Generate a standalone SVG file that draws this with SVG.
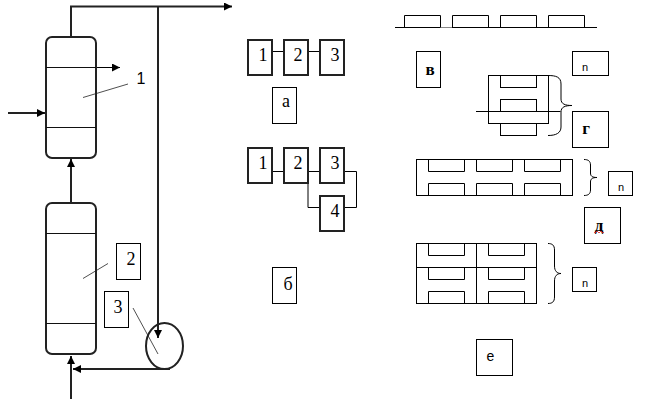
<svg xmlns="http://www.w3.org/2000/svg" width="645" height="408" viewBox="0 0 645 408">
<style>
.t{font-family:"Liberation Serif",serif;font-size:18px;fill:#000;text-anchor:middle}
.s{font-family:"Liberation Sans",sans-serif;fill:#000;text-anchor:middle}
.l{fill:none;stroke:#000;stroke-width:1}
.m{fill:none;stroke:#111;stroke-width:1}
.h{fill:none;stroke:#222;stroke-width:2}
.b{fill:#fff;stroke:#000;stroke-width:1}
.k{fill:#fff;stroke:#222;stroke-width:2}
.thin{fill:none;stroke:#222;stroke-width:.8}
</style>
<defs>
<marker id="a" markerUnits="userSpaceOnUse" markerWidth="9" markerHeight="8" refX="8" refY="4" orient="auto"><path d="M0 0L8 4L0 8Z" fill="#000"/></marker>
</defs>
<g id="connectors">
<path class="h" d="M71 37V6.500H232" marker-end="url(#a)"/>
<path class="h" d="M158 6.500V338" marker-end="url(#a)"/>
<path class="h" d="M71 203V159" marker-end="url(#a)"/>
<path class="h" d="M8 113H45" marker-end="url(#a)"/>
<path class="h" d="M71 399V356" marker-end="url(#a)"/>
<path class="h" d="M170 369H73" marker-end="url(#a)"/>
<path class="l" d="M46 67.500H120" marker-end="url(#a)"/>
<path class="l" d="M272 51.500H284M308 51.500H320M272 171.500H284M308 171.500H320M344 171.500H356.500V207.500H344M308 183V207.500H320"/>
</g>
<g id="column-1"><rect class="h" x="46" y="37" width="50" height="121" rx="6"/><path class="m" d="M46 67.500H96M46 127.500H96"/></g>
<g id="column-2"><rect class="h" x="46" y="203" width="50" height="151" rx="6"/><path class="m" d="M46 233.500H96M46 323.500H96"/></g>
<g id="pump"><ellipse class="h" cx="164.500" cy="346" rx="18.500" ry="23"/></g>
<g id="label-1"><path class="thin" d="M83 97.500L128 84"/><text class="s" x="141" y="84" font-size="16">1</text></g>
<g id="label-2"><path class="thin" d="M83 278.500L108 263.500"/><rect class="b" x="116.500" y="243.500" width="24" height="36"/><text class="t" x="131" y="265">2</text></g>
<g id="label-3"><rect class="b" x="104.500" y="291.500" width="24" height="36"/><text class="t" x="118" y="313">3</text><path class="thin" d="M133 308L158 354"/></g>
<g id="a1"><rect class="k" x="248" y="40" width="24" height="35"/><text class="t" x="263" y="61">1</text></g>
<g id="a2"><rect class="k" x="284" y="40" width="24" height="35"/><text class="t" x="298" y="61">2</text></g>
<g id="a3"><rect class="k" x="320" y="40" width="24" height="35"/><text class="t" x="335" y="61">3</text></g>
<g id="cap-a"><rect class="b" x="272.500" y="87.500" width="24" height="36"/><text class="t" x="286" y="107">а</text></g>
<g id="b1"><rect class="k" x="248" y="148" width="24" height="35"/><text class="t" x="263" y="169">1</text></g>
<g id="b2"><rect class="k" x="284" y="148" width="24" height="35"/><text class="t" x="298" y="169">2</text></g>
<g id="b3"><rect class="k" x="320" y="148" width="24" height="35"/><text class="t" x="335" y="169">3</text></g>
<g id="b4"><rect class="k" x="320" y="196" width="24" height="35"/><text class="t" x="335" y="217">4</text></g>
<g id="cap-b"><rect class="b" x="272.500" y="267.500" width="24" height="36"/><text class="t" x="288" y="290">б</text></g>
<g id="scheme-v"><path class="l" d="M395 27.500H440M452 27.500H597"/><path fill="none" stroke="#888" d="M440 27.500H452"/><path class="l" d="M404.500 27.500V15.500H440.500V27.500M452.500 27.500V15.500H488.500V27.500M500.500 27.500V15.500H536.500V27.500M548.500 27.500V15.500H584.500V27.500"/></g>
<g id="cap-v"><rect class="b" x="416.500" y="51.500" width="24" height="36"/><text class="t" x="430" y="75" font-weight="bold" style="font-size:17px">в</text></g>
<g id="n-1"><rect class="b" x="572.500" y="51.500" width="36" height="24"/><text class="s" x="585" y="71" font-size="11">n</text></g>
<g id="scheme-g"><path class="l" d="M476 111.500H560.500"/><rect class="l" x="488.500" y="75.500" width="60" height="48"/><rect class="l" x="500.500" y="75.500" width="36" height="12"/><rect class="l" x="500.500" y="99.500" width="36" height="12"/><rect class="l" x="500.500" y="123.500" width="36" height="12"/><path class="l" stroke="#333" d="M548 75.500C556 75.500 561 77 561 84V99C561 104 565 105.500 572 105.500C565 105.500 561 107 561 112V127C561 133 556 135.500 548 135.500"/></g>
<g id="cap-g"><rect class="b" x="572.500" y="111.500" width="36" height="36"/><text class="t" x="586" y="134" font-weight="bold" style="font-size:17px">г</text></g>
<g id="scheme-d"><rect class="l" x="416.500" y="159.500" width="156" height="36"/><path class="l" d="M428.500 159.500V171.500H464.500V159.500M476.500 159.500V171.500H512.500V159.500M524.500 159.500V171.500H560.500V159.500M428.500 195.500V183.500H464.500V195.500M476.500 195.500V183.500H512.500V195.500M524.500 195.500V183.500H560.500V195.500"/><path class="l" d="M584 159.500C588 159.500 590.500 161 590.500 165V173C590.500 176 592 177.500 597 177.500C592 177.500 590.500 179 590.500 182V190C590.500 194 588 195.500 584 195.500"/></g>
<g id="n-2"><rect class="b" x="608.500" y="171.500" width="24" height="24"/><text class="s" x="621" y="191" font-size="11">n</text></g>
<g id="cap-d"><rect class="b" x="584.500" y="207.500" width="36" height="36"/><text class="t" x="599" y="231" font-weight="bold" fill="#222" style="font-size:17px">д</text><path d="M594 232q1 2 2 0t2 0t2 0t2 0t2 0" fill="none" stroke="#e02020" stroke-width=".8"/></g>
<g id="scheme-e"><rect class="l" x="416.500" y="243.500" width="120" height="60"/><path class="l" d="M476.500 243.500V303.500M416.500 267.500H536.500"/><path class="l" d="M428.500 243.500V255.500H464.500V243.500M488.500 243.500V255.500H524.500V243.500M428.500 267.500V279.500H464.500V267.500M488.500 267.500V279.500H524.500V267.500M428.500 303.500V291.500H464.500V303.500M488.500 303.500V291.500H524.500V303.500"/><path class="l" d="M548 243.500C552 243.500 554.500 245 554.500 250V266C554.500 271 557 273.500 561 273.500C557 273.500 554.500 276 554.500 281V297C554.500 302 552 303.500 548 303.500"/></g>
<g id="n-3"><rect class="b" x="572.500" y="267.500" width="24" height="24"/><text class="s" x="585" y="287" font-size="11">n</text></g>
<g id="cap-e"><rect class="b" x="476.500" y="339.500" width="36" height="36"/><text class="s" x="490.500" y="361" font-size="14">е</text></g>
</svg>
